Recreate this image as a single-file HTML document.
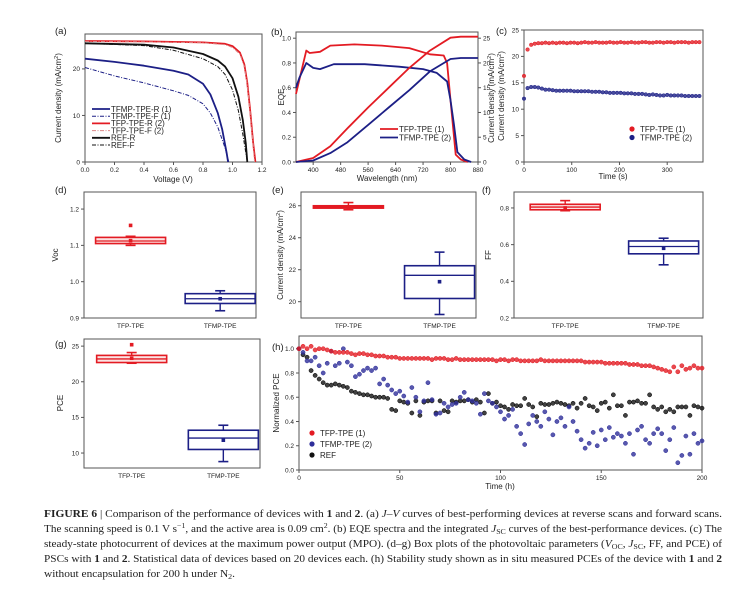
<!DOCTYPE html>
<html><head><meta charset="utf-8">
<style>
html,body{margin:0;padding:0;background:#fff;}
svg{display:block;font-family:"Liberation Sans",sans-serif;}
.t{font-size:6.5px;fill:#222;}
.at{font-size:8px;fill:#222;}
.pl{font-size:9.5px;fill:#222;}
.lg{font-size:8px;fill:#222;}
.cap{font-family:"Liberation Serif",serif;font-size:10px;fill:#222;}
</style></head>
<body>
<svg id="fig" width="744" height="593" viewBox="0 0 744 593">
<rect width="744" height="593" fill="#fff"/>
<!-- panel labels -->
<text class="pl" x="55" y="34">(a)</text>
<text class="pl" x="271" y="35">(b)</text>
<text class="pl" x="496" y="34">(c)</text>
<text class="pl" x="55" y="193">(d)</text>
<text class="pl" x="272" y="193">(e)</text>
<text class="pl" x="482" y="193">(f)</text>
<text class="pl" x="55" y="347">(g)</text>
<text class="pl" x="272" y="350">(h)</text>
<!-- axis titles -->
<text class="at" transform="translate(61,98) rotate(-90)" text-anchor="middle">Current density (mA/cm<tspan font-size="5.5" dy="-3">2</tspan><tspan dy="3">)</tspan></text>
<text class="at" x="173" y="182" text-anchor="middle">Voltage (V)</text>
<text class="at" transform="translate(284,97) rotate(-90)" text-anchor="middle">EQE</text>
<text class="at" x="387" y="181" text-anchor="middle">Wavelength (nm)</text>
<text class="at" transform="translate(494,98) rotate(-90)" text-anchor="middle">Current density (mA/cm<tspan font-size="5.5" dy="-3">2</tspan><tspan dy="3">)</tspan></text>
<text class="at" transform="translate(504,96) rotate(-90)" text-anchor="middle">Current density (mA/cm<tspan font-size="5.5" dy="-3">2</tspan><tspan dy="3">)</tspan></text>
<text class="at" x="613" y="179" text-anchor="middle">Time (s)</text>
<text class="at" transform="translate(58,255) rotate(-90)" text-anchor="middle">Voc</text>
<text class="at" transform="translate(283,255) rotate(-90)" text-anchor="middle">Current density (mA/cm<tspan font-size="5.5" dy="-3">2</tspan><tspan dy="3">)</tspan></text>
<text class="at" transform="translate(491,255) rotate(-90)" text-anchor="middle">FF</text>
<text class="at" transform="translate(63,403) rotate(-90)" text-anchor="middle">PCE</text>
<text class="at" transform="translate(279,403) rotate(-90)" text-anchor="middle">Normalized PCE</text>
<text class="at" x="500" y="489" text-anchor="middle">Time (h)</text>
<!-- caption -->
<g>
<text class="cap" x="44" y="517" textLength="678" lengthAdjust="spacingAndGlyphs"><tspan font-weight="bold">FIGURE  6</tspan>  |  Comparison of the performance of devices with <tspan font-weight="bold">1</tspan> and <tspan font-weight="bold">2</tspan>. (a) <tspan font-style="italic">J–V</tspan> curves of best-performing devices at reverse scans and forward scans.</text>
<text class="cap" x="44" y="532" textLength="678" lengthAdjust="spacingAndGlyphs">The scanning speed is 0.1 V s<tspan font-size="7" dy="-4">−1</tspan><tspan dy="4">, and the active area is 0.09 cm</tspan><tspan font-size="7" dy="-4">2</tspan><tspan dy="4">. (b) EQE spectra and the integrated </tspan><tspan font-style="italic">J</tspan><tspan font-size="7" dy="2">SC</tspan><tspan dy="-2"> curves of the best-performance devices. (c) The</tspan></text>
<text class="cap" x="44" y="547" textLength="678" lengthAdjust="spacingAndGlyphs">steady-state photocurrent of devices at the maximum power output (MPO). (d–g) Box plots of the photovoltaic parameters (<tspan font-style="italic">V</tspan><tspan font-size="7" dy="2">OC</tspan><tspan dy="-2">, </tspan><tspan font-style="italic">J</tspan><tspan font-size="7" dy="2">SC</tspan><tspan dy="-2">, FF, and PCE) of</tspan></text>
<text class="cap" x="44" y="562" textLength="678" lengthAdjust="spacingAndGlyphs">PSCs with <tspan font-weight="bold">1</tspan> and <tspan font-weight="bold">2</tspan>. Statistical data of devices based on 20 devices each. (h) Stability study shown as in situ measured PCEs of the device with <tspan font-weight="bold">1</tspan> and <tspan font-weight="bold">2</tspan></text>
<text class="cap" x="44" y="577" textLength="191" lengthAdjust="spacingAndGlyphs">without encapsulation for 200 h under N<tspan font-size="7" dy="2">2</tspan><tspan dy="-2">.</tspan></text>
</g>
</svg>
<script>
// ---------- DATA ----------
// (a) J-V curves
const jvNames = ['TFMP-TPE-R (1)','TFMP-TPE-F (1)','TFP-TPE-R (2)','TFP-TPE-F (2)','REF-R','REF-F'];
const jvV1 = [0,0.2,0.4,0.6,0.7,0.8,0.85,0.9,0.93,0.96,0.97];
const jvJ1 = [22.2,21.5,20.7,19.6,18.8,16.8,14.5,10.5,7,2,0];
const jvV2 = [0,0.2,0.4,0.6,0.7,0.8,0.85,0.9,0.95,0.975];
const jvJ2 = [20.3,18.5,17,15.3,14.3,12.5,10.5,7.5,3,0];
const jvV3 = [0,0.4,0.8,0.95,1.0,1.05,1.08,1.1,1.12,1.14,1.155];
const jvJ3 = [26.0,25.9,25.7,25.4,24.9,23.5,21,17,11,4,0];
const jvV4 = [0,0.4,0.8,0.95,1.0,1.05,1.08,1.1,1.12,1.14,1.15];
const jvJ4 = [25.9,25.8,25.6,25.2,24.6,23.2,20.5,16.5,10.5,3.5,0];
const jvV5 = [0,0.4,0.6,0.8,0.9,0.95,1.0,1.04,1.07,1.09,1.1];
const jvJ5 = [25.5,25.2,24.6,23.2,21.8,20.5,18,14,9,4,0];
const jvV6 = [0,0.4,0.6,0.8,0.9,0.95,1.0,1.04,1.07,1.1];
const jvJ6 = [25.5,25.0,24.0,22.2,20.5,18.8,15.5,11,6,0];
const jvTicksX = ['0.0','0.2','0.4','0.6','0.8','1.0','1.2'];
const jvTicksY = [0,10,20];
// (b) EQE
const eqeW1 = [350,380,390,420,450,520,600,680,740,780,790,800,815,830,850];
const eqeV1 = [0.55,0.9,0.88,0.89,0.94,0.95,0.94,0.92,0.87,0.86,0.8,0.5,0.06,0.02,0];
const eqeW2 = [350,360,380,400,420,460,550,650,720,760,790,800,810,820,840,860];
const eqeV2 = [0.6,0.68,0.8,0.76,0.75,0.79,0.79,0.77,0.75,0.72,0.65,0.5,0.3,0.08,0.02,0];
const intW = [350,400,450,500,560,620,680,740,800,830,880];
const intJ1 = [0,0.8,3.2,6.8,11,15,19,22.5,25.1,25.3,25.3];
const intJ2 = [0,0.3,1.8,4,7.5,11,14.5,18.3,20.8,21.0,21.0];
const eqeTicksX = [400,480,560,640,720,800,880];
const eqeTicksY = ['0.0','0.2','0.4','0.6','0.8','1.0'];
const intTicks = [0,5,10,15,20,25];
// (c) steady-state photocurrent, sampled every cStep seconds
const cStep = 7.5;
const cTFP = [16.3,21.3,22.2,22.4,22.5,22.5,22.6,22.5,22.6,22.5,22.6,22.6,22.5,22.6,22.6,22.5,22.6,22.7,22.6,22.6,22.7,22.6,22.6,22.6,22.7,22.6,22.6,22.7,22.6,22.6,22.7,22.6,22.6,22.7,22.7,22.6,22.6,22.7,22.7,22.6,22.7,22.7,22.6,22.7,22.7,22.7,22.6,22.7,22.7,22.7];
const cTFMP = [12.0,14.0,14.2,14.2,14.1,13.9,13.7,13.7,13.6,13.5,13.5,13.5,13.5,13.5,13.4,13.4,13.4,13.4,13.4,13.3,13.3,13.3,13.2,13.2,13.1,13.1,13.1,13.1,13.0,13.0,13.0,12.9,12.9,12.9,12.8,12.7,12.8,12.7,12.6,12.6,12.7,12.6,12.6,12.6,12.6,12.5,12.5,12.5,12.5,12.5];
const cTicksX = [0,100,200,300];
const cTicksY = [0,5,10,15,20,25];
// (d-g) box plots: [TFP, TFMP]
const boxCats = ['TFP-TPE','TFMP-TPE'];
const dQ1=[1.105,0.940], dMed=[1.112,0.953], dQ3=[1.122,0.967], dLo=[1.100,0.920], dHi=[1.125,0.975], dMean=[1.113,0.953], dOut=[1.155,null];
const eQ1=[25.85,20.2], eMed=[25.92,21.65], eQ3=[26.0,22.25], eLo=[25.75,19.2], eHi=[26.2,23.1], eMean=[25.9,21.25], eOut=[null,null];
const fQ1=[0.79,0.55], fMed=[0.805,0.59], fQ3=[0.82,0.62], fLo=[0.785,0.49], fHi=[0.84,0.635], fMean=[0.80,0.58], fOut=[null,null];
const gQ1=[22.7,10.5], gMed=[23.2,12.1], gQ3=[23.7,13.2], gLo=[22.6,8.8], gHi=[24.1,13.9], gMean=[23.3,11.8], gOut=[25.2,null];
const dTicks=['0.9','1.0','1.1','1.2'], eTicks=[20,22,24,26], fTicks=['0.2','0.4','0.6','0.8'], gTicks=[10,15,20,25];
// (h) stability, sampled every hStep hours
const hStep = 2;
const hTFP = [1.0,1.02,1.0,1.02,0.99,1.0,1.0,0.99,0.98,0.97,0.97,0.97,0.97,0.96,0.95,0.96,0.96,0.95,0.95,0.94,0.94,0.94,0.93,0.93,0.93,0.92,0.92,0.92,0.92,0.92,0.92,0.92,0.92,0.91,0.92,0.92,0.92,0.91,0.91,0.92,0.91,0.91,0.91,0.91,0.91,0.91,0.91,0.91,0.91,0.9,0.91,0.91,0.9,0.91,0.91,0.9,0.9,0.9,0.9,0.9,0.91,0.9,0.9,0.9,0.9,0.9,0.9,0.9,0.9,0.9,0.9,0.89,0.89,0.89,0.89,0.89,0.88,0.88,0.88,0.88,0.88,0.88,0.87,0.87,0.87,0.86,0.86,0.86,0.85,0.84,0.83,0.82,0.81,0.85,0.81,0.86,0.83,0.84,0.86,0.84,0.84];
const hTFMP = [1.0,0.97,0.9,0.9,0.93,0.86,0.80,0.88,0.98,0.86,0.88,1.0,0.89,0.86,0.77,0.79,0.82,0.84,0.82,0.84,0.71,0.75,0.70,0.66,0.63,0.65,0.61,0.56,0.68,0.60,0.48,0.57,0.72,0.58,0.46,0.47,0.55,0.52,0.54,0.55,0.60,0.64,0.58,0.57,0.55,0.46,0.63,0.57,0.55,0.52,0.48,0.42,0.45,0.50,0.36,0.30,0.21,0.38,0.45,0.40,0.36,0.48,0.42,0.29,0.40,0.43,0.36,0.52,0.40,0.32,0.25,0.18,0.22,0.31,0.20,0.33,0.25,0.35,0.27,0.30,0.28,0.22,0.30,0.13,0.33,0.36,0.25,0.22,0.30,0.34,0.30,0.16,0.25,0.35,0.06,0.12,0.28,0.13,0.30,0.22,0.24];
const hREF = [1.0,0.95,0.93,0.82,0.78,0.75,0.72,0.70,0.70,0.71,0.70,0.69,0.68,0.65,0.64,0.63,0.62,0.62,0.61,0.60,0.60,0.60,0.59,0.50,0.49,0.57,0.56,0.55,0.47,0.57,0.45,0.56,0.57,0.57,0.47,0.57,0.49,0.48,0.57,0.56,0.57,0.57,0.58,0.56,0.58,0.56,0.47,0.63,0.55,0.56,0.53,0.52,0.50,0.54,0.53,0.53,0.59,0.54,0.52,0.44,0.55,0.54,0.54,0.55,0.56,0.55,0.54,0.53,0.55,0.51,0.55,0.59,0.53,0.52,0.49,0.55,0.56,0.51,0.62,0.53,0.53,0.45,0.56,0.56,0.57,0.55,0.55,0.62,0.52,0.50,0.52,0.48,0.50,0.48,0.52,0.52,0.52,0.45,0.53,0.52,0.51];
const hTicksX = [0,50,100,150,200];
const hTicksY = ['0.0','0.2','0.4','0.6','0.8','1.0'];

// ---------- DRAWING ----------
const RED='#e31b23', BLUE='#1c1f86', NS='http://www.w3.org/2000/svg';
const svg=document.getElementById('fig');
function el(tag, name, parent){
  const e=document.createElementNS(NS,tag);
  
  
  (parent||svg).appendChild(e);
  return e;
}
function lin(d0,d1,r0,r1){return v=>r0+(v-d0)/(d1-d0)*(r1-r0);}
function frame(b,name){
  const r=el('rect',name+'-frame');
  r.setAttribute('x',b[0]);r.setAttribute('y',b[1]);r.setAttribute('width',b[2]-b[0]);r.setAttribute('height',b[3]-b[1]);
  r.setAttribute('fill','none');r.setAttribute('stroke','#555');r.setAttribute('stroke-width','1');
}
function tickY(b,sy,vals,name,side){
  vals.forEach(v=>{
    const y=sy(+v);
    const x=side==='r'?b[2]:b[0];
    const l=el('line',name+'-tick');
    l.setAttribute('x1',x);l.setAttribute('x2',side==='r'?x+3:x-3);l.setAttribute('y1',y);l.setAttribute('y2',y);l.setAttribute('stroke','#555');
    const t=el('text',name+'-tick-label');
    t.setAttribute('class','t');t.setAttribute('x',side==='r'?x+5:x-5);t.setAttribute('y',y+2.3);
    t.setAttribute('text-anchor',side==='r'?'start':'end');t.textContent=v;
  });
}
function tickX(b,sx,vals,name){
  vals.forEach(v=>{
    const x=sx(+v);
    const l=el('line',name+'-tick');
    l.setAttribute('x1',x);l.setAttribute('x2',x);l.setAttribute('y1',b[3]);l.setAttribute('y2',b[3]+3);l.setAttribute('stroke','#555');
    const t=el('text',name+'-tick-label');
    t.setAttribute('class','t');t.setAttribute('x',x);t.setAttribute('y',b[3]+10);t.setAttribute('text-anchor','middle');t.textContent=v;
  });
}
function path(xs,ys,sx,sy,color,w,dash,name){
  const p=el('path',name);
  p.setAttribute('d',xs.map((x,i)=>(i?'L':'M')+sx(x).toFixed(1)+' '+sy(ys[i]).toFixed(1)).join(''));
  p.setAttribute('fill','none');p.setAttribute('stroke',color);p.setAttribute('stroke-width',w);
  p.setAttribute('stroke-linejoin','round');
  if(dash)p.setAttribute('stroke-dasharray',dash);
}
function dots(vals,step,sx,sy,color,r,name){
  vals.forEach((v,i)=>{
    const c=el('circle',name);
    c.setAttribute('cx',sx(i*step));c.setAttribute('cy',sy(v));c.setAttribute('r',r);
    c.setAttribute('fill',color);c.setAttribute('stroke',color==='#111'?'#000':color);c.setAttribute('stroke-width','0.5');c.setAttribute('fill-opacity','0.8');
  });
}
function legLine(x,y,color,dash,label,name,w){
  const l=el('line',name+'-swatch');
  l.setAttribute('x1',x);l.setAttribute('x2',x+18);l.setAttribute('y1',y);l.setAttribute('y2',y);
  l.setAttribute('stroke',color);l.setAttribute('stroke-width',w||1.8);if(dash)l.setAttribute('stroke-dasharray',dash);
  const t=el('text',name+'-label');t.setAttribute('class','lg');t.setAttribute('x',x+19);t.setAttribute('y',y+2.8);t.textContent=label;
}
function legDot(x,y,color,label,name){
  const c=el('circle',name+'-swatch');c.setAttribute('cx',x);c.setAttribute('cy',y);c.setAttribute('r',2.6);c.setAttribute('fill',color);
  const t=el('text',name+'-label');t.setAttribute('class','lg');t.setAttribute('x',x+8);t.setAttribute('y',y+3);t.textContent=label;
}

// Panel a
(function(){
  const b=[85,34,262,162], sx=lin(0,1.2,b[0],b[2]), sy=lin(0,27.5,b[3],b[1]);
  frame(b,'panel-a');tickX(b,sx,jvTicksX,'a-x');tickY(b,sy,jvTicksY,'a-y');
  path(jvV6,jvJ6,sx,sy,'#111',1,'4 1.5 1 1.5','ref-f-curve');
  path(jvV5,jvJ5,sx,sy,'#111',1.8,null,'ref-r-curve');
  path(jvV2,jvJ2,sx,sy,BLUE,1,'4 1.5 1 1.5','tfmp-tpe-f-curve');
  path(jvV1,jvJ1,sx,sy,BLUE,1.8,null,'tfmp-tpe-r-curve');
  path(jvV3,jvJ3,sx,sy,RED,1.8,null,'tfp-tpe-r-curve');
  path(jvV4,jvJ4,sx,sy,'#d88',1,'4 1.5 1 1.5','tfp-tpe-f-curve');
  const cols=[BLUE,BLUE,RED,'#d88','#111','#111'], ds=[null,'4 1.5 1 1.5',null,'4 1.5 1 1.5',null,'4 1.5 1 1.5'];
  jvNames.forEach((n,i)=>legLine(92,109+i*7.2,cols[i],ds[i],n,'a-legend-entry',ds[i]?1:1.8));
})();
// Panel b
(function(){
  const b=[296,32,478,162], sx=lin(350,880,b[0],b[2]), sy=lin(0,1.05,b[3],b[1]), sy2=lin(0,26.25,b[3],b[1]);
  frame(b,'panel-b');tickX(b,sx,eqeTicksX,'b-x');tickY(b,sy,eqeTicksY,'b-y');tickY(b,sy2,intTicks,'b-y-right','r');
  path(eqeW1,eqeV1,sx,sy,RED,1.8,null,'tfp-tpe-eqe-curve');
  path(eqeW2,eqeV2,sx,sy,BLUE,1.8,null,'tfmp-tpe-eqe-curve');
  path(intW,intJ1,sx,sy2,RED,1.8,null,'tfp-tpe-integrated-jsc');
  path(intW,intJ2,sx,sy2,BLUE,1.8,null,'tfmp-tpe-integrated-jsc');
  legLine(380,129,RED,null,'TFP-TPE (1)','b-legend-entry');
  legLine(380,137.5,BLUE,null,'TFMP-TPE (2)','b-legend-entry');
})();
// Panel c
(function(){
  const b=[524,30,703,162], sx=lin(0,375,b[0],b[2]), sy=lin(0,25,b[3],b[1]);
  frame(b,'panel-c');tickX(b,sx,cTicksX,'c-x');tickY(b,sy,cTicksY,'c-y');
  dots(cTFMP,cStep,sx,sy,BLUE,1.8,'tfmp-tpe-point');
  dots(cTFP,cStep,sx,sy,RED,1.8,'tfp-tpe-point');
  legDot(632,129,RED,'TFP-TPE (1)','c-legend-entry');
  legDot(632,137.5,BLUE,'TFMP-TPE (2)','c-legend-entry');
})();
// Box plots
function boxPanel(b,y0,y1,ticks,Q1,Med,Q3,Lo,Hi,Mean,Out,name){
  const sx=lin(0.48,2.4,b[0],b[2]), sy=lin(y0,y1,b[3],b[1]);
  frame(b,name);tickY(b,sy,ticks,name+'-y');
  boxCats.forEach((c,i)=>{
    const x=sx(i+1), col=i?BLUE:RED, hw=35;
    const t=el('text',name+'-category-label');t.setAttribute('class','t');t.setAttribute('x',x);t.setAttribute('y',b[3]+10);t.setAttribute('text-anchor','middle');t.textContent=c;
    const w=el('line',name+'-whisker');w.setAttribute('x1',x);w.setAttribute('x2',x);w.setAttribute('y1',sy(Lo[i]));w.setAttribute('y2',sy(Hi[i]));w.setAttribute('stroke',col);w.setAttribute('stroke-width',1.4);
    [Lo[i],Hi[i]].forEach(v=>{const k=el('line',name+'-whisker-cap');k.setAttribute('x1',x-5);k.setAttribute('x2',x+5);k.setAttribute('y1',sy(v));k.setAttribute('y2',sy(v));k.setAttribute('stroke',col);k.setAttribute('stroke-width',1.6);});
    const r=el('rect',name+'-box');r.setAttribute('x',x-hw);r.setAttribute('width',2*hw);r.setAttribute('y',sy(Q3[i]));r.setAttribute('height',Math.max(sy(Q1[i])-sy(Q3[i]),1));
    r.setAttribute('fill',i?'#fff':'#fbe3e3');r.setAttribute('stroke',col);r.setAttribute('stroke-width',1.6);
    const m=el('line',name+'-median');m.setAttribute('x1',x-hw);m.setAttribute('x2',x+hw);m.setAttribute('y1',sy(Med[i]));m.setAttribute('y2',sy(Med[i]));m.setAttribute('stroke',col);m.setAttribute('stroke-width',1.3);
    const mn=el('rect',name+'-mean');mn.setAttribute('x',x-1.8);mn.setAttribute('y',sy(Mean[i])-1.8);mn.setAttribute('width',3.6);mn.setAttribute('height',3.6);mn.setAttribute('fill',col);
    if(Out[i]!==null){const o=el('rect',name+'-outlier');o.setAttribute('x',x-1.8);o.setAttribute('y',sy(Out[i])-1.8);o.setAttribute('width',3.6);o.setAttribute('height',3.6);o.setAttribute('fill',col);}
  });
}
boxPanel([84,192,256,318],0.9,1.247,dTicks,dQ1,dMed,dQ3,dLo,dHi,dMean,dOut,'panel-d');
boxPanel([301,192,476,318],18.98,26.86,eTicks,eQ1,eMed,eQ3,eLo,eHi,eMean,eOut,'panel-e');
boxPanel([514,192,703,318],0.2,0.887,fTicks,fQ1,fMed,fQ3,fLo,fHi,fMean,fOut,'panel-f');
boxPanel([84,339,260,468],7.9,26,gTicks,gQ1,gMed,gQ3,gLo,gHi,gMean,gOut,'panel-g');
// Panel h
(function(){
  const b=[299,336,702,470], sx=lin(0,200,b[0],b[2]), sy=lin(0,1.105,b[3],b[1]);
  frame(b,'panel-h');tickX(b,sx,hTicksX,'h-x');tickY(b,sy,hTicksY,'h-y');
  dots(hREF,hStep,sx,sy,'#111',2.1,'ref-point');
  dots(hTFMP,hStep,sx,sy,'#2e2e9a',2.1,'tfmp-tpe-point');
  dots(hTFP,hStep,sx,sy,RED,2.1,'tfp-tpe-point');
  legDot(312,433,RED,'TFP-TPE (1)','h-legend-entry');
  legDot(312,444,'#2e2e9a','TFMP-TPE (2)','h-legend-entry');
  legDot(312,455,'#111','REF','h-legend-entry');
})();
</script>
</body></html>
